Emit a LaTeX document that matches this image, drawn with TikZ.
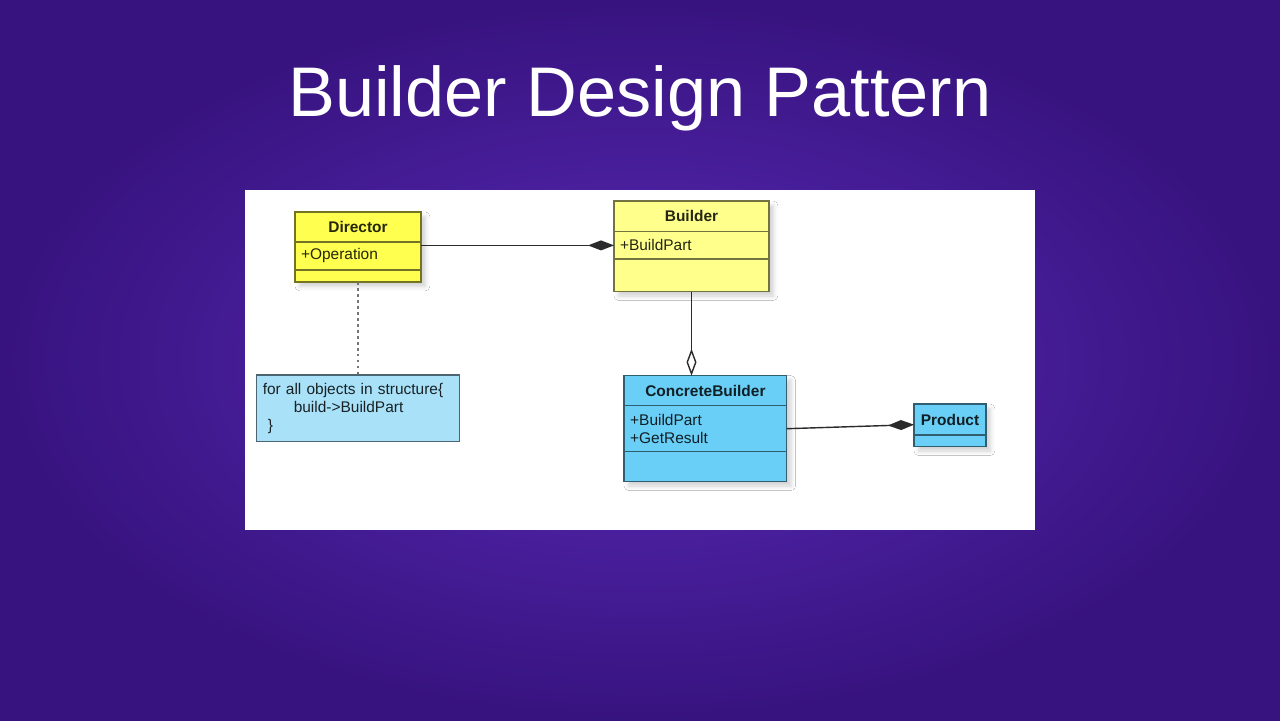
\documentclass[tikz,border=0pt]{standalone}
\usepackage{fontspec}
\setmainfont{Liberation Sans}
\usepackage{tikz}
\usetikzlibrary{arrows.meta,positioning,shadows.blur}
\definecolor{slidedeep}{HTML}{37137F}
\definecolor{slideglow}{HTML}{5A2AB8}
\definecolor{headyellow}{HTML}{FFFF4F}
\definecolor{paleyellow}{HTML}{FFFF8C}
\definecolor{classblue}{HTML}{6ACFF6}
\definecolor{noteblue}{HTML}{A9E1F8}
\definecolor{linegray}{HTML}{2B2B2B}
\tikzset{
  part/.style={rectangle,draw=#1!45!black,fill=#1,text=#1!15!black,line width=0.8pt,
    inner xsep=0.12cm,inner ysep=0pt,outer sep=0pt,font=\fontsize{8.8}{10.2}\selectfont},
  head/.style={part=#1,font=\fontsize{8.8}{10.2}\selectfont\bfseries},
  body/.style={part=#1,align=left},
  classbox/.style={rectangle,fill=#1,inner sep=0pt,outer sep=0pt,
    blur shadow={shadow xshift=2.5pt,shadow yshift=-2.5pt,shadow opacity=18,shadow blur radius=2.5pt}},
  comp/.style={-{Diamond[length=0.52cm,width=0.2cm]},line width=0.8pt,draw=linegray},
  aggr/.style={-{Diamond[open,length=0.54cm,width=0.2cm,fill=white]},line width=0.8pt,draw=linegray},
  noteline/.style={dash pattern=on 1.6pt off 1.8pt,line width=1pt,draw=linegray!65}
}

\begin{document}
\begin{tikzpicture}[x=0.02cm,y=-0.02cm]
\useasboundingbox (0,0) rectangle (1280,720);
\shade[inner color=slideglow,outer color=slidedeep] (0,0) rectangle (1280,720);
\node[fill=white,minimum width=15.8cm,minimum height=6.8cm,inner sep=0pt] (panel) at (640,360) {};
\node[font=\fontsize{40}{48}\selectfont,text=white,anchor=base] (title) at (640,116) {Builder Design Pattern};
% Director
\node[classbox=headyellow,minimum width=2.52cm,minimum height=1.4cm] (director-box) at (358,247) {};
\node[head=headyellow,minimum width=2.52cm,minimum height=0.6cm,below=0pt of director-box.north] (director) {Director};
\node[body=headyellow,text width=2.28cm,minimum height=0.56cm,below=0pt of director] (director-attr) {+Operation};
\node[part=headyellow,minimum width=2.52cm,minimum height=0.24cm,below=0pt of director-attr] (director-ops) {};
% Builder
\node[classbox=paleyellow,minimum width=3.1cm,minimum height=1.81cm] (builder-box) at (691.5,246.4) {};
\node[head=paleyellow,minimum width=3.1cm,minimum height=0.61cm,below=0pt of builder-box.north] (builder) {Builder};
\node[body=paleyellow,text width=2.86cm,minimum height=0.55cm,below=0pt of builder] (builder-attr) {+BuildPart};
\node[part=paleyellow,minimum width=3.1cm,minimum height=0.65cm,below=0pt of builder-attr] (builder-ops) {};
% ConcreteBuilder
\node[classbox=classblue,minimum width=3.25cm,minimum height=2.12cm] (cb-box) at (705.4,428.7) {};
\node[head=classblue,minimum width=3.25cm,minimum height=0.6cm,below=0pt of cb-box.north] (cb) {ConcreteBuilder};
\node[body=classblue,text width=3.01cm,minimum height=0.92cm,below=0pt of cb] (cb-attr) {+BuildPart\\+GetResult};
\node[part=classblue,minimum width=3.25cm,minimum height=0.6cm,below=0pt of cb-attr] (cb-ops) {};
% Product
\node[classbox=classblue,minimum width=1.44cm,minimum height=0.85cm] (product-box) at (950,425.4) {};
\node[head=classblue,minimum width=1.44cm,minimum height=0.62cm,below=0pt of product-box.north] (product) {Product};
\node[part=classblue,minimum width=1.44cm,minimum height=0.23cm,below=0pt of product] (product-ops) {};
% note
\node[body=noteblue,text width=3.81cm,minimum height=1.33cm] (note) at (358,408.3)
  {for all objects in structure\{\\\hspace*{0.62cm}build->BuildPart\\\hspace*{0.1cm}\}};
\draw[comp] (builder-attr.west -| director-attr.east) -- (builder-attr.west);
\draw[aggr] (builder-ops.south) -- (builder-ops.south |- cb.north);
\draw[comp] (cb-attr.east) -- ([yshift=-0.1cm]product.west);
\draw[noteline] (director-ops.south) -- (note.north);
\end{tikzpicture}
\end{document}
